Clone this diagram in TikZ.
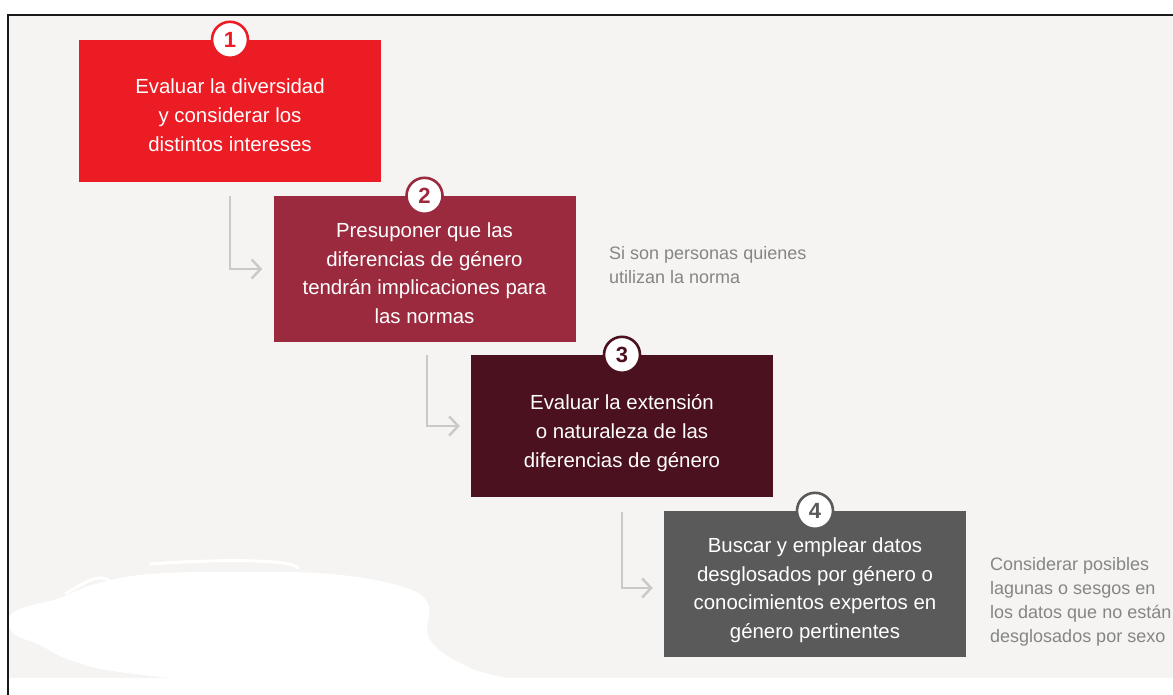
\documentclass[tikz,border=0pt]{standalone}
\usepackage{fontspec}
\setmainfont{Liberation Sans}
\usetikzlibrary{arrows.meta}
\usetikzlibrary{positioning}

\definecolor{paper}{HTML}{F5F4F2}
\definecolor{stepred}{HTML}{EC1C24}
\definecolor{stepwine}{HTML}{9B2A3F}
\definecolor{stepdark}{HTML}{4B111F}
\definecolor{stepgray}{HTML}{5A5A5A}
\definecolor{flowgray}{HTML}{C9C9C9}
\definecolor{notegray}{HTML}{858585}

\begin{document}
\begin{tikzpicture}[x=1pt, y=-1pt,
  stepbox/.style={
    % The shape:
    rectangle,
    minimum width=302pt, minimum height=144pt,
    inner sep=0pt,
    % The filling:
    fill=#1,
    % Font
    text=white, font=\fontsize{20.4}{28.7}\selectfont,
    align=center},
  badge/.style={
    circle, minimum size=36pt, inner sep=0pt,
    fill=white, draw=#1, line width=2.6pt,
    text=#1, font=\fontsize{22}{24}\selectfont\bfseries},
  note/.style={
    anchor=north west, inner sep=0pt,
    text=notegray, align=left,
    font=\fontsize{18}{24}\selectfont},
  flow/.style={
    draw=flowgray, line width=2.4pt,
    -{Straight Barb[length=9pt,width=19pt,line width=2.4pt]}}]

  \useasboundingbox (0,0) rectangle (1173,695);
  \fill[white] (0,0) rectangle (1173,695);
  \fill[paper] (9,15) rectangle (1173,678);

  % hand scribble over the bottom left corner
  \fill[white] plot[smooth cycle, tension=0.7] coordinates {
    (14,612) (60,598) (95,584) (150,574) (240,572) (330,574) (400,586)
    (428,604) (430,640) (470,668) (520,684) (380,684) (230,682) (120,672)
    (70,660) (40,645) (12,632)};
  \draw[white, line width=3pt] (150,564) .. controls (250,557) and (300,562) .. (298,569);
  \draw[white, line width=3pt] (65,594) .. controls (90,579) and (100,574) .. (110,581);
  \draw[white, line width=3pt] (400,592) -- (410,612);

  \draw[black!90, line width=2.6pt] (8,695) -- (8,15) -- (1173,15);

  \node (s1) [stepbox=stepred, minimum height=142pt] at (230,111)
    {\rule{0pt}{23pt}Evaluar la diversidad\\ y considerar los\\ distintos intereses};
  \node (s2) [stepbox=stepwine, minimum height=146pt] at (424.5,269)
    {\rule{0pt}{23pt}Presuponer que las\\ diferencias de género\\ tendrán implicaciones para\\ las normas};
  \node (s3) [stepbox=stepdark, minimum height=142pt] at (622,426)
    {\rule{0pt}{29pt}Evaluar la extensión\\ o naturaleza de las\\ diferencias de género};
  \node (s4) [stepbox=stepgray, minimum height=146pt] at (815,584)
    {\rule{0pt}{27pt}Buscar y emplear datos\\ desglosados por género o\\ conocimientos expertos en\\ género pertinentes};

  \node (b1) [badge=stepred] at (s1.north) {1};
  \node (b2) [badge=stepwine] at (s2.north) {2};
  \node (b3) [badge=stepdark] at (s3.north) {3};
  \node (b4) [badge=stepgray] at (s4.north) {4};

  \node (n2) [note] at (609,246) {Si son personas quienes\\ utilizan la norma};
  \node (n4) [note] at (990,557) {Considerar posibles\\ lagunas o sesgos en\\ los datos que no están\\ desglosados por sexo};

  \draw[flow] ([yshift=-14pt]s1.south) |- ([xshift=-11pt]s2.west);
  \draw[flow] ([xshift=2.5pt, yshift=-13pt]s2.south) |- ([xshift=-11pt]s3.west);
  \draw[flow] ([yshift=-15pt]s3.south) |- ([xshift=-11pt, yshift=-4pt]s4.west);
\end{tikzpicture}
\end{document}
